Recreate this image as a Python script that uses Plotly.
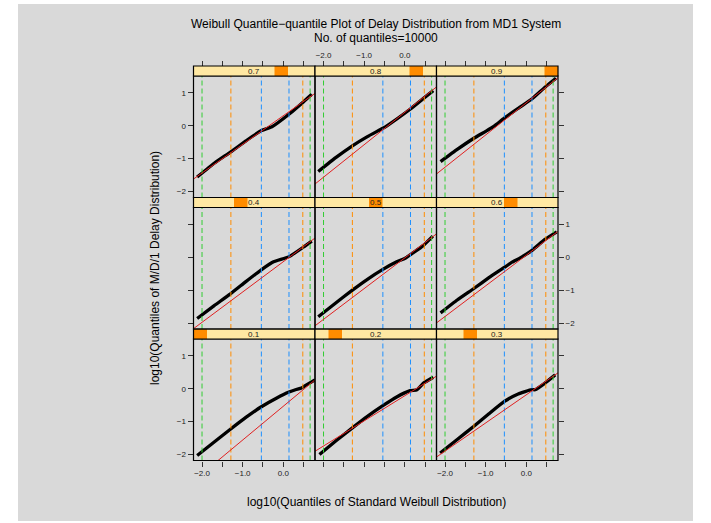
import plotly.graph_objects as go

# ---------------- data ----------------
rho_labels = ["0.1", "0.2", "0.3", "0.4", "0.5", "0.6", "0.7", "0.8", "0.9"]

# black quantile curves (x = log10 Weibull quantile, y = log10 delay quantile)
curve_x = {
    "0.1": [-2.12, -1.70, -1.31, -0.93, -0.55, -0.16, 0.14, 0.30, 0.45, 0.55, 0.78],
    "0.2": [-2.10, -1.70, -1.29, -0.92, -0.54, -0.20, 0.13, 0.30, 0.46, 0.70],
    "0.3": [-2.12, -1.70, -1.29, -0.92, -0.54, -0.20, 0.13, 0.22, 0.46, 0.71],
    "0.4": [-2.12, -1.70, -1.31, -0.93, -0.55, -0.24, 0.13, 0.50, 0.70],
    "0.5": [-2.13, -1.70, -1.29, -0.92, -0.54, -0.20, 0.01, 0.20, 0.46, 0.69],
    "0.6": [-2.11, -1.70, -1.29, -0.92, -0.54, -0.35, -0.15, 0.14, 0.46, 0.75],
    "0.7": [-2.12, -1.70, -1.30, -0.92, -0.55, -0.28, 0.17, 0.50, 0.70],
    "0.8": [-2.13, -1.70, -1.29, -0.92, -0.54, -0.45, 0.13, 0.46, 0.70],
    "0.9": [-2.11, -1.70, -1.29, -1.00, -0.80, -0.54, -0.20, 0.135, 0.46, 0.73],
}
curve_y = {
    "0.1": [-2.03, -1.62, -1.24, -0.88, -0.555, -0.28, -0.10, -0.03, 0.02, 0.10, 0.27],
    "0.2": [-2.00, -1.59, -1.19, -0.84, -0.515, -0.25, -0.06, -0.03, 0.17, 0.35],
    "0.3": [-1.95, -1.54, -1.14, -0.76, -0.385, -0.16, -0.03, -0.03, 0.17, 0.42],
    "0.4": [-1.86, -1.47, -1.12, -0.75, -0.39, -0.14, 0.01, 0.31, 0.49],
    "0.5": [-1.81, -1.39, -1.00, -0.67, -0.37, -0.14, -0.03, 0.13, 0.36, 0.64],
    "0.6": [-1.69, -1.30, -0.95, -0.62, -0.31, -0.15, -0.02, 0.21, 0.54, 0.77],
    "0.7": [-1.56, -1.14, -0.80, -0.46, -0.15, -0.03, 0.38, 0.73, 0.955],
    "0.8": [-1.39, -0.97, -0.61, -0.33, -0.077, -0.01, 0.50, 0.83, 1.065],
    "0.9": [-1.09, -0.72, -0.38, -0.17, -0.02, 0.23, 0.53, 0.81, 1.17, 1.44],
}

# red reference lines (end points)
ref_x = [-2.21, 0.78]
ref_y = {
    "0.1": [-2.80, 0.268], "0.2": [-1.90, 0.382], "0.3": [-2.074, 0.482],
    "0.4": [-2.17, 0.582], "0.5": [-2.083, 0.709], "0.6": [-1.995, 0.786],
    "0.7": [-1.62, 0.983], "0.8": [-1.77, 1.178], "0.9": [-1.465, 1.46],
}

# vertical reference quantile lines (probabilities .01,.05,.25,.75,.95,.99)
vline_x = [-2.00, -1.29, -0.54, 0.14, 0.48, 0.66]
vline_col = ["#32CD32", "#FF8C00", "#1E90FF", "#1E90FF", "#FF8C00", "#32CD32"]

x_tickvals = [-2.0, -1.5, -1.0, -0.5, 0.0, 0.5]
x_ticktext = ["\u22122.0", "", "\u22121.0", "", "0.0", ""]
y_tickvals = [-2, -1, 0, 1]
y_ticktext = ["\u22122", "\u22121", "0", "1"]

# ---------------- layout geometry (pixels) ----------------
W, H = 711, 523
col_left = [193.5, 315.0, 436.5]
col_w = 121.5
strip_top = [66.0, 197.5, 329.0]   # rows top->bottom
strip_h = 10.0
panel_h = 121.5
XR = [-2.21, 0.78]
YR = [-2.18, 1.51]
GRAY = "#D9D9D9"
FONT = "Liberation Sans, Arial, Helvetica, sans-serif"
TXT = "#222222"

def px(x):
    return x / W

def py(y):
    return (H - y) / H

fig = go.Figure()
shapes = []
annotations = []

for i, lab in enumerate(rho_labels):
    k = i + 1
    col = i % 3
    row_from_bottom = i // 3
    row = 2 - row_from_bottom  # 0 = top
    xl = col_left[col]
    xr = xl + col_w
    st = strip_top[row]
    pt = st + strip_h
    pb = pt + panel_h
    xa = "x" if k == 1 else f"x{k}"
    ya = "y" if k == 1 else f"y{k}"
    xname = "xaxis" if k == 1 else f"xaxis{k}"
    yname = "yaxis" if k == 1 else f"yaxis{k}"

    # x axis
    xax = dict(domain=[px(xl), px(xr)], range=XR, anchor=ya, showgrid=False,
               zeroline=False, showline=False, tickvals=x_tickvals,
               ticktext=x_ticktext, tickfont=dict(size=8, color=TXT, family=FONT),
               ticklen=5, tickwidth=1, tickcolor="#333333")
    if row == 0:
        xax.update(side="top", anchor="free", position=py(st), ticks="outside",
                   showticklabels=(col == 1))
    elif row == 2:
        xax.update(side="bottom", ticks="outside", showticklabels=(col != 1))
    else:
        xax.update(ticks="", showticklabels=False)
    # y axis
    yax = dict(domain=[py(pb), py(pt)], range=YR, anchor=xa, showgrid=False,
               zeroline=False, showline=False, tickvals=y_tickvals,
               ticktext=y_ticktext, tickfont=dict(size=8, color=TXT, family=FONT),
               ticklen=5, tickwidth=1, tickcolor="#333333")
    if col == 0:
        yax.update(side="left", ticks="outside", showticklabels=(row != 1))
    elif col == 2:
        yax.update(side="right", ticks="outside", showticklabels=(row == 1))
    else:
        yax.update(ticks="", showticklabels=False)
    fig.update_layout({xname: xax, yname: yax})

    # black quantile curve
    fig.add_trace(go.Scatter(x=curve_x[lab], y=curve_y[lab], xaxis=xa, yaxis=ya,
                             mode="lines",
                             line=dict(color="black", width=3.3, shape="spline",
                                       smoothing=0.4),
                             hoverinfo="skip", showlegend=False))
    # dashed vertical lines
    for vx, vc in zip(vline_x, vline_col):
        fig.add_trace(go.Scatter(x=[vx, vx], y=YR, xaxis=xa, yaxis=ya, mode="lines",
                                 line=dict(color=vc, width=1, dash="5px,3px"),
                                 hoverinfo="skip", showlegend=False))
    # red reference line
    fig.add_trace(go.Scatter(x=ref_x, y=ref_y[lab], xaxis=xa, yaxis=ya, mode="lines",
                             line=dict(color="#E02020", width=1),
                             hoverinfo="skip", showlegend=False))

    # panel border
    shapes.append(dict(type="rect", xref="paper", yref="paper",
                       x0=px(xl), x1=px(xr), y0=py(pb), y1=py(pt),
                       line=dict(color="black", width=1.2), layer="above"))
    # strip
    shapes.append(dict(type="rect", xref="paper", yref="paper",
                       x0=px(xl), x1=px(xr), y0=py(pt), y1=py(st),
                       fillcolor="#FFE8A3", line=dict(width=0), layer="above"))
    shapes.append(dict(type="rect", xref="paper", yref="paper",
                       x0=px(xl + col_w * i / 9), x1=px(xl + col_w * (i + 1) / 9),
                       y0=py(pt), y1=py(st),
                       fillcolor="#FF8C00", line=dict(width=0), layer="above"))
    shapes.append(dict(type="rect", xref="paper", yref="paper",
                       x0=px(xl), x1=px(xr), y0=py(pt), y1=py(st),
                       fillcolor="rgba(0,0,0,0)", line=dict(color="black", width=1.2),
                       layer="above"))
    annotations.append(dict(text=lab, xref="paper", yref="paper",
                            x=px((xl + xr) / 2), y=py(st + strip_h / 2),
                            showarrow=False, xanchor="center", yanchor="middle",
                            font=dict(size=8, color=TXT, family=FONT)))

# gray background of the whole device
shapes.insert(0, dict(type="rect", xref="paper", yref="paper",
                      x0=px(18), x1=px(693), y0=py(521), y1=py(4),
                      fillcolor=GRAY, line=dict(width=0), layer="below"))

annotations += [
    dict(text="Weibull Quantile\u2212quantile Plot of Delay Distribution from MD1 System",
         xref="paper", yref="paper", x=px(376), y=py(24), showarrow=False,
         xanchor="center", yanchor="middle", font=dict(size=12, color="black", family=FONT)),
    dict(text="No. of quantiles=10000", xref="paper", yref="paper", x=px(376), y=py(38),
         showarrow=False, xanchor="center", yanchor="middle",
         font=dict(size=12, color="black", family=FONT)),
    dict(text="log10(Quantiles of Standard Weibull Distribution)", xref="paper", yref="paper",
         x=px(376), y=py(502), showarrow=False, xanchor="center", yanchor="middle",
         font=dict(size=12, color="black", family=FONT)),
    dict(text="log10(Quantiles of M/D/1 Delay Distribution)", xref="paper", yref="paper",
         x=px(155), y=py(268), showarrow=False, xanchor="center", yanchor="middle",
         textangle=-90, font=dict(size=12, color="black", family=FONT)),
]

fig.update_layout(width=W, height=H, margin=dict(l=0, r=0, t=0, b=0),
                  paper_bgcolor="white", plot_bgcolor=GRAY,
                  shapes=shapes, annotations=annotations, showlegend=False)

fig.write_html("out.html")
